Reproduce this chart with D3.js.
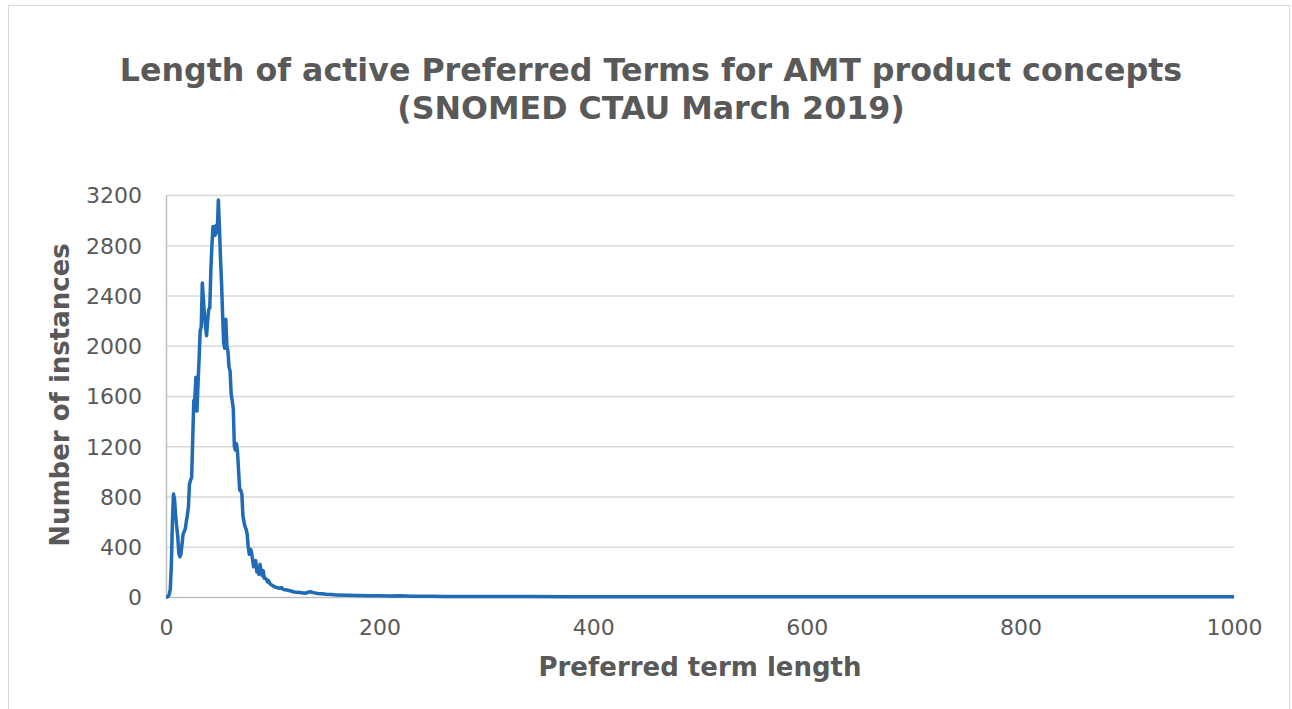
<!DOCTYPE html>
<html>
<head>
<meta charset="utf-8">
<script src="https://cdn.jsdelivr.net/npm/d3@7"></script>
<style>
  body{margin:0;background:#fff;}
  text{font-family:Verdana,"DejaVu Sans",sans-serif;fill:#595959;}
</style>
</head>
<body>
<div class="canvas"></div>
<script>
// chart text
const titleLines=['Length of active Preferred Terms for AMT product concepts','(SNOMED CTAU March 2019)'];
const xTitle='Preferred term length';
const yTitle='Number of instances';
const xTicks=[0,200,400,600,800,1000];
const yTicks=[0,400,800,1200,1600,2000,2400,2800,3200];

// series: term length -> number of instances
const termLength=[0,1,2,3,4,5,6,7,8,9,10,11,12,13,14,15,16,17,18,19,
  20,21,22,23,24,25,26,27,28,29,30,31,32,33,34,35,36,37,38,39,
  40,41,42,43,44,45,46,47,48,49,50,51,52,53,54,55,56,57,58,59,
  60,61,62,63,64,65,66,67,68,69,70,71,72,73,74,75,76,77,78,79,
  80,81,82,83,84,85,86,87,88,89,90,91,92,93,94,95,96,97,98,99,
  100,102,104,106,108,110,113,116,120,125,130,135,138,142,146,150,155,160,
  170,180,190,200,210,220,230,240,250,260,280,300,340,380,420,460,500,
  540,580,620,660,700,760,820,880,940,1000];
const instanceCount=[0,0,5,20,60,250,600,820,780,650,560,480,350,320,340,420,500,520,540,600,
  650,720,900,930,950,1250,1560,1580,1750,1480,1700,1900,2120,2150,2500,2380,2250,2150,2080,2200,
  2290,2300,2600,2800,2950,2920,2880,2960,2900,3160,2950,2700,2500,2250,2020,1980,2210,2000,1960,1830,
  1800,1620,1560,1500,1200,1170,1220,1150,1000,850,850,820,650,600,560,540,500,400,340,380,
  360,300,240,260,290,200,220,180,260,200,170,210,150,150,140,120,130,110,100,95,
  90,80,75,70,75,60,55,50,40,35,30,42,35,28,25,22,20,15,
  14,12,10,9,8,9,6,5,5,4,3,3,3,2,2,2,1,
  2,1,1,1,1,1,1,1,1,1];

const data=termLength.map((d,i)=>({len:d,count:instanceCount[i]}));

const width=1292,height=709;
const svg=d3.select('.canvas')
  .append('svg')
    .attr('width',width)
    .attr('height',height);

// chart border
svg.append('rect')
  .attr('x',8.5).attr('y',5.5)
  .attr('width',1281).attr('height',720)
  .attr('fill','#fff')
  .attr('stroke','#d9d9d9');

const plot={left:166,right:1234,top:195,bottom:597};

const x=d3.scaleLinear().domain([0,1000]).range([plot.left,plot.right]);
const y=d3.scaleLinear().domain([0,3200]).range([plot.bottom,plot.top]);

// gridlines
svg.append('g')
  .selectAll('line')
  .data(yTicks.filter(d=>d>0))
  .enter().append('line')
    .attr('x1',plot.left).attr('x2',plot.right)
    .attr('y1',d=>y(d)+0.5).attr('y2',d=>y(d)+0.5)
    .attr('stroke','#d9d9d9').attr('stroke-width',1.3);

// axes
const xAxis=d3.axisBottom(x).tickValues(xTicks).tickFormat(d3.format('d')).tickSize(0).tickPadding(22);
const yAxis=d3.axisLeft(y).tickValues(yTicks).tickFormat(d3.format('d')).tickSize(0).tickPadding(24);

const xAxisGroup=svg.append('g').attr('transform',`translate(0,${plot.bottom})`).call(xAxis);
const yAxisGroup=svg.append('g').attr('transform',`translate(${plot.left},0)`).call(yAxis);

[xAxisGroup,yAxisGroup].forEach(g=>{
  g.select('.domain').attr('stroke','#bfbfbf').attr('stroke-width',1.5);
  g.selectAll('text')
    .attr('font-family','Verdana,"DejaVu Sans",sans-serif')
    .attr('font-size',22)
    .attr('fill','#595959');
});
yAxisGroup.selectAll('text').attr('dy','0.36em');

// the series
const line=d3.line().x(d=>x(d.len)).y(d=>y(d.count));
svg.append('path')
  .datum(data)
  .attr('d',line)
  .attr('fill','none')
  .attr('stroke','#1f6bb5')
  .attr('stroke-width',3.5)
  .attr('stroke-linejoin','round');

// titles
const title=svg.append('text')
  .attr('text-anchor','middle')
  .attr('font-weight','bold')
  .attr('font-size',31.7);
title.selectAll('tspan')
  .data(titleLines)
  .enter().append('tspan')
    .attr('x',651)
    .attr('y',(d,i)=>81+i*38)
    .text(d=>d);

svg.append('text')
  .attr('x',(plot.left+plot.right)/2)
  .attr('y',676)
  .attr('text-anchor','middle')
  .attr('font-weight','bold')
  .attr('font-size',26)
  .text(xTitle);

svg.append('text')
  .attr('transform','translate(69,395) rotate(-90)')
  .attr('text-anchor','middle')
  .attr('font-weight','bold')
  .attr('font-size',26)
  .text(yTitle);
</script>
</body>
</html>
